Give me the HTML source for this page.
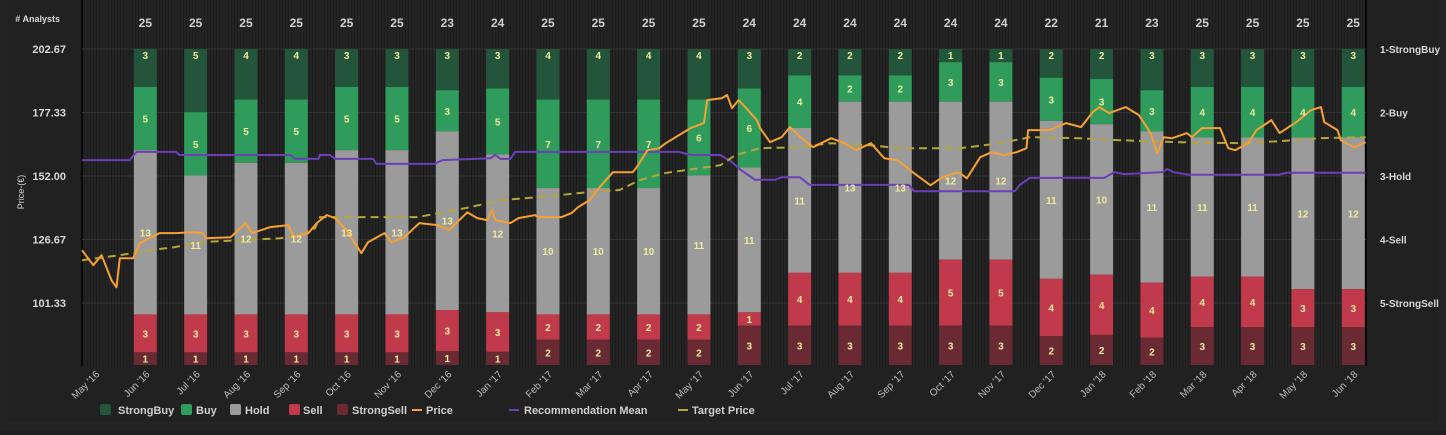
<!DOCTYPE html>
<html><head><meta charset="utf-8"><style>
html,body{margin:0;padding:0;background:#1f1f1f;}
body{width:1446px;height:430px;overflow:hidden;font-family:"Liberation Sans",sans-serif;}
svg text{font-family:"Liberation Sans",sans-serif;}
</style></head><body>
<svg id="chart" width="1446" height="430" xmlns="http://www.w3.org/2000/svg">
<defs>
<pattern id="stripes" width="3" height="4" patternUnits="userSpaceOnUse"><rect width="3" height="4" fill="#242424"/><rect width="1" height="4" fill="#1c1c1c"/></pattern>
</defs>
<rect x="0" y="0" width="1446" height="430" fill="#232323"/>
<rect x="8" y="0" width="1430" height="422" fill="#212121"/>
<rect x="82" y="0" width="1284" height="366" fill="url(#stripes)"/>
<line x1="82" y1="0" x2="82" y2="366" stroke="#000" stroke-width="1.5"/>
<line x1="1366" y1="0" x2="1366" y2="366" stroke="#000" stroke-width="1.5"/>
<g id="grid"></g><g id="bars"></g><g id="lines"></g><g id="labels"></g><g id="legend"></g>
</svg>
<script>
const months=["May '16","Jun '16","Jul '16","Aug '16","Sep '16","Oct '16","Nov '16","Dec '16","Jan '17","Feb '17","Mar '17","Apr '17","May '17","Jun '17","Jul '17","Aug '17","Sep '17","Oct '17","Nov '17","Dec '17","Jan '18","Feb '18","Mar '18","Apr '18","May '18","Jun '18"];
const strongBuy=[3,5,4,4,3,3,3,3,4,4,4,4,3,2,2,2,1,1,2,2,3,3,3,3,3];
const buy=[5,5,5,5,5,5,3,5,7,7,7,6,6,4,2,2,3,3,3,3,3,4,4,4,4];
const hold=[13,11,12,12,13,13,13,12,10,10,10,11,11,11,13,13,12,12,11,10,11,11,11,12,12];
const sell=[3,3,3,3,3,3,3,3,2,2,2,2,1,4,4,4,5,5,4,4,4,4,4,3,3];
const strongSell=[1,1,1,1,1,1,1,1,2,2,2,2,3,3,3,3,3,3,2,2,2,3,3,3,3];
const priceTicks=[202.67,177.33,152.00,126.67,101.33];
const recTicks=["1-StrongBuy","2-Buy","3-Hold","4-Sell","5-StrongSell"];
// days since 1 May 2016
const priceDays=[-8,-1,4,10,13,15,23,27,39,49,59,65,67,82,91,95,106,117,120,129,134,140,145,152,161,165,175,179,187,196,207,214,225,231,237,240,242,251,256,266,268,282,288,292,299,305,313,325,327,334,341,345,355,360,368,370,379,382,385,389,393,400,402,408,415,420,427,434,445,453,460,469,477,485,495,505,512,522,527,535,542,549,557,563,564,577,587,596,603,607,613,623,631,638,642,646,651,660,663,669,680,685,689,697,702,711,716,726,735,741,743,751,753,761,768];
const price=[122.4,116.4,120.4,110.4,107.6,119.2,119.2,125.2,129.2,129.2,129.6,129.2,127.2,127.6,133.2,129.2,131.6,132.4,127.6,129.2,133.2,136.4,135.2,130.4,121.2,125.6,129.2,125.6,127.6,133.2,132.4,130.4,137.5,135.2,134.4,138.4,134.4,133.2,135.2,136.4,135.6,135.6,137.2,139.6,142.4,147.5,153.5,153.5,155.1,162.3,163.1,165.1,169.1,171.1,173.1,182.3,183.1,184.3,179.1,182.3,179.5,174.3,171.1,165.5,167.5,171.5,167.1,163.5,167.1,165.1,162.3,165.1,159.1,158.3,153.1,148.3,151.5,153.5,151.1,159.5,161.5,160.3,161.5,163.1,170.3,170.3,173.1,171.5,177.5,179.5,177.1,179.5,176.3,169.1,161.1,167.5,167.1,169.1,167.5,171.1,171.1,163.1,162.3,165.1,170.3,174.3,169.1,173.5,178.3,179.5,173.5,170.3,166.3,163.5,165.5];
const targetDays=[-8,15,33,48,63,88,112,124,133,136,195,208,227,245,269,299,317,329,344,378,387,402,426,444,468,486,523,547,565,595,619,656,692,716,740,768];
const target=[118.4,120.4,122.4,123.6,125.6,126.4,127.2,128.4,131.2,135.6,135.6,137.2,139.6,142.4,143.6,145.6,146.4,150.3,153.1,156.3,160.3,163.1,163.5,165.1,164.3,163.1,163.1,165.1,167.5,167.1,166.3,165.5,165.1,165.9,167.1,167.5];
const recDays=[-8,21,25,49,51,118,121,135,136,142,145,168,170,205,210,239,242,245,251,254,353,360,378,385,390,399,411,415,426,432,492,495,556,559,565,610,616,622,645,648,652,661,716,720,768];
const recMean=[2.75,2.75,2.62,2.62,2.67,2.67,2.73,2.73,2.67,2.67,2.73,2.73,2.81,2.81,2.75,2.72,2.67,2.73,2.73,2.62,2.62,2.67,2.67,2.78,2.9,3.06,3.06,3.02,3.02,3.14,3.14,3.24,3.24,3.14,3.03,3.03,2.94,2.97,2.94,2.89,2.94,2.98,2.98,2.95,2.95];
const NS="http://www.w3.org/2000/svg";
const X0=95, DX=50.33, YT=49, YB=365, PXDAY=DX/30.42;
const xM=i=>X0+i*DX;
const xD=d=>X0+d*PXDAY;
const yP=p=>YT+(202.67-p)/(202.67-101.33)*(303-YT);
const yR=r=>YT+(r-1)*(303-YT)/4;
function mk(tag,attrs,parent,text){const e=document.createElementNS(NS,tag);for(const k in attrs)e.setAttribute(k,attrs[k]);if(text!==undefined)e.textContent=text;document.getElementById(parent).appendChild(e);return e;}
priceTicks.forEach((t,i)=>{
 const y=yP(t);
 const g=mk('line',{x1:82,x2:1366,y1:y,y2:y,stroke:'#333','stroke-width':1},'grid');
 
 
 const l=mk('text',{x:66,y:y+4,'text-anchor':'end',fill:'#d8d8d8','font-size':11,'font-weight':'bold'},'labels',t.toFixed(2));
 
 
 const r=mk('text',{x:1380,y:y+4,fill:'#d8d8d8','font-size':10,'font-weight':'bold'},'labels',recTicks[i]);
 
 
});
const t1=mk('text',{x:60,y:22,'text-anchor':'end',fill:'#d8d8d8','font-size':9,'font-weight':'bold'},'labels','# Analysts');


const t2=mk('text',{x:0,y:0,transform:'translate(24,192) rotate(-90)','text-anchor':'middle',fill:'#d8d8d8','font-size':9},'labels','Price-(€)');


const series=[strongBuy,buy,hold,sell,strongSell];
const cols=['#23553a','#2f9c5b','#9b9b9b','#c03a4b','#6a2a33'];
const names=['strongbuy','buy','hold','sell','strongsell'];
for(let i=0;i<strongBuy.length;i++){
 const cx=xM(i+1);
 const tot=series.reduce((a,s)=>a+s[i],0);
 let y=YT;
 series.forEach((s,k)=>{
  const h=s[i]/tot*(YB-YT);
  const r=mk('rect',{x:cx-11.5,y:y,width:23,height:h,fill:cols[k]},'bars');
  
  
  const ly=k===0?YT+10:y+h/2+4;
  const tx=mk('text',{x:cx,y:ly,'text-anchor':'middle',fill:'#f0eaa0','font-size':10,'font-weight':'bold'},'labels',s[i]);
  
  
  y+=h;
 });
 const n=mk('text',{x:cx,y:27,'text-anchor':'middle',fill:'#cfcfcf','font-size':12,'font-weight':'bold'},'labels',tot);
 
 
}
months.forEach((m,i)=>{
 const x=xM(i);
 const l=mk('text',{x:0,y:0,transform:`translate(${x+5},${375}) rotate(-45)`,'text-anchor':'end',fill:'#bdbdbd','font-size':10},'labels',m);
 
 
});
function path(days,arr,fy){return arr.map((v,i)=>(i?'L':'M')+Math.max(82,Math.min(1366,xD(days[i]))).toFixed(1)+','+fy(v).toFixed(1)).join(' ');}
const pm=mk('path',{d:path(recDays,recMean,yR),fill:'none',stroke:'#6a3fb8','stroke-width':2},'lines');


const pt=mk('path',{d:path(targetDays,target,yP),fill:'none',stroke:'#b4a63a','stroke-width':2,'stroke-dasharray':'8,5'},'lines');


const pp=mk('path',{d:path(priceDays,price,yP),fill:'none',stroke:'#f7a035','stroke-width':2,'stroke-linejoin':'round'},'lines');


const leg=[['StrongBuy',cols[0],'box',100,118],['Buy',cols[1],'box',181,196],['Hold',cols[2],'box',230,245],['Sell',cols[3],'box',289,303],['StrongSell',cols[4],'box',337,352],['Price','#f7a035','line',412,426],['Recommendation Mean','#6a3fb8','line',509,524],['Target Price','#b4a63a','line',678,692]];
leg.forEach(l=>{
 let s;
 if(l[2]==='box') s=mk('rect',{x:l[3],y:404,width:11,height:11,rx:2,fill:l[1]},'legend');
 else s=mk('rect',{x:l[3],y:409,width:10,height:2,fill:l[1]},'legend');
 
 
 const t=mk('text',{x:l[4],y:414,fill:'#cfcfcf','font-size':11,'font-weight':'bold'},'legend',l[0]);
 
 
});
</script>
</body></html>
